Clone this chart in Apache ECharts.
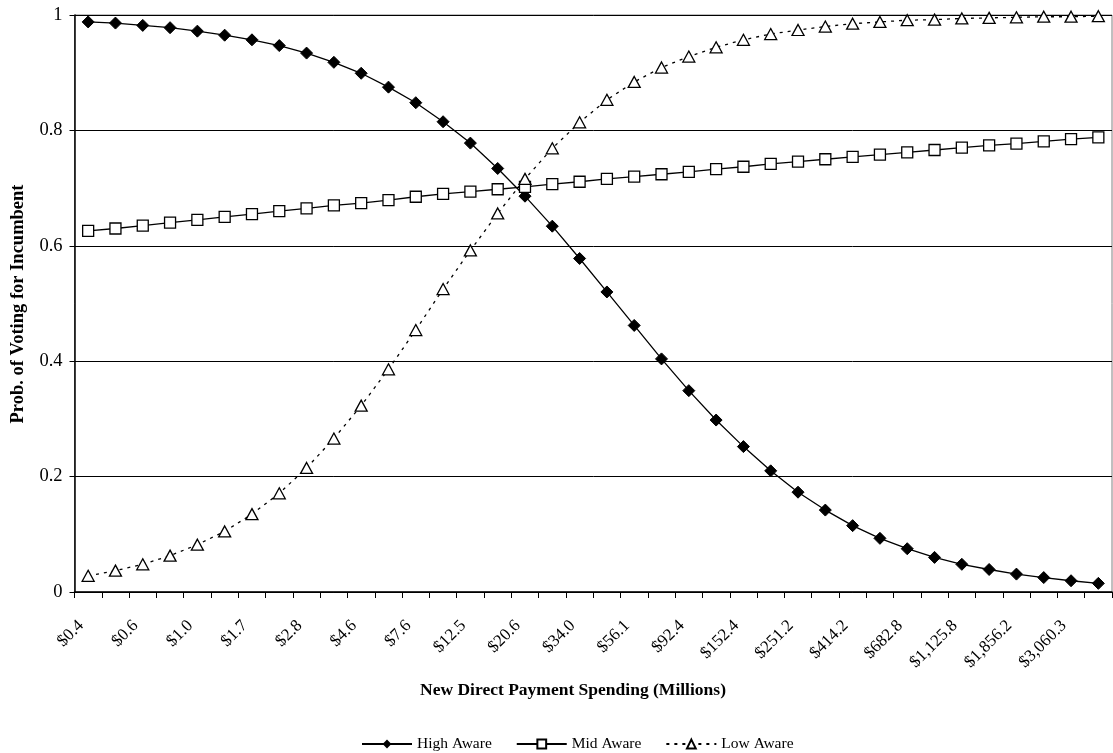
<!DOCTYPE html>
<html>
<head>
<meta charset="utf-8">
<script src="https://cdn.jsdelivr.net/npm/echarts@6/dist/echarts.min.js"></script>
<style>html,body{margin:0;padding:0;background:#fff;}#chart{width:1113px;height:753px;}</style>
</head>
<body>
<div id="chart"></div>
<script>
const categories = ["$0.4","$0.5","$0.6","$0.8","$1.0","$1.3","$1.7","$2.2","$2.8","$3.6","$4.6","$5.9","$7.6","$9.7","$12.5","$16.1","$20.6","$26.5","$34.0","$43.7","$56.1","$72.0","$92.4","$118.7","$152.4","$195.7","$251.2","$322.6","$414.2","$532.0","$682.8","$877.0","$1,125.8","$1,446.0","$1,856.2","$2,384.1","$3,060.3","$3,930.6"];
const highAware = [0.988,0.986,0.982,0.978,0.972,0.965,0.957,0.947,0.934,0.918,0.899,0.875,0.848,0.815,0.778,0.734,0.686,0.634,0.578,0.520,0.462,0.404,0.349,0.298,0.252,0.210,0.173,0.142,0.115,0.093,0.075,0.060,0.048,0.039,0.031,0.025,0.0195,0.015];
const midAware = [0.626,0.630,0.635,0.640,0.645,0.650,0.655,0.660,0.665,0.670,0.674,0.679,0.685,0.690,0.694,0.698,0.702,0.707,0.711,0.716,0.720,0.724,0.728,0.733,0.737,0.742,0.746,0.750,0.754,0.758,0.762,0.766,0.770,0.774,0.777,0.781,0.785,0.788];
const lowAware = [0.028,0.037,0.048,0.063,0.082,0.105,0.135,0.171,0.215,0.266,0.323,0.386,0.454,0.525,0.592,0.656,0.716,0.769,0.814,0.853,0.884,0.909,0.928,0.944,0.957,0.967,0.974,0.980,0.985,0.988,0.991,0.992,0.994,0.995,0.996,0.997,0.997,0.998];
const yTicks = [0, 0.2, 0.4, 0.6, 0.8, 1];

const FONT = "'Liberation Serif','Times New Roman',serif";
const chart = echarts.init(document.getElementById('chart'), null, {renderer: 'canvas'});
chart.setOption({
  animation: false,
  backgroundColor: '#fff',
  textStyle: {fontFamily: FONT, color: '#000'},
  grid: {left: 74.5, right: 1, top: 15, bottom: 161, show: true, borderColor: '#808080', borderWidth: 1},
  legend: {
    left: 356, top: 731,
    itemWidth: 50, itemHeight: 11, itemGap: 24,
    textStyle: {fontFamily: FONT, fontSize: 15.5, color: '#000'},
    data: ['High Aware', 'Mid Aware', 'Low Aware']
  },
  graphic: [
    {type: 'text', x: 573, y: 690, style: {text: 'New Direct Payment Spending (Millions)', fontFamily: FONT, fontWeight: 'bold', fontSize: 17.5, fill: '#000', align: 'center', verticalAlign: 'middle'}},
    {type: 'text', x: 18, y: 304, rotation: Math.PI / 2, style: {text: 'Prob. of Voting for Incumbent', fontFamily: FONT, fontWeight: 'bold', fontSize: 18.5, fill: '#000', align: 'center', verticalAlign: 'middle'}}
  ],
  xAxis: {
    type: 'category',
    data: categories,
    boundaryGap: true,
    axisLine: {lineStyle: {color: '#000', width: 1.5}},
    axisTick: {show: true, interval: 0, length: 6, lineStyle: {color: '#000'}},
    axisLabel: {interval: 1, rotate: 45, margin: 24, padding: [0, 10, 0, 0], fontFamily: FONT, fontSize: 17, color: '#000'},
    splitLine: {show: false}
  },
  yAxis: {
    type: 'value',
    min: yTicks[0], max: yTicks[yTicks.length - 1], interval: 0.2,
    axisLine: {show: true, lineStyle: {color: '#000', width: 1.5}},
    axisTick: {show: true, length: 5, lineStyle: {color: '#000'}},
    axisLabel: {margin: 12, fontFamily: FONT, fontSize: 18.5, color: '#000'},
    splitLine: {show: true, lineStyle: {color: '#000', width: 1}}
  },
  series: [
    {
      name: 'High Aware', type: 'line', data: highAware,
      symbol: 'diamond', symbolSize: 12,
      lineStyle: {color: '#000', width: 1.3},
      itemStyle: {color: '#000', borderColor: '#000'}
    },
    {
      name: 'Mid Aware', type: 'line', data: midAware,
      symbol: 'rect', symbolSize: 11,
      lineStyle: {color: '#000', width: 1.3},
      itemStyle: {color: '#fff', borderColor: '#000', borderWidth: 1.3}
    },
    {
      name: 'Low Aware', type: 'line', data: lowAware,
      symbol: 'triangle', symbolSize: [12, 11],
      lineStyle: {color: '#000', width: 1.3, type: [3, 5]},
      itemStyle: {color: '#fff', borderColor: '#000', borderWidth: 1.3}
    }
  ]
});
</script>
</body>
</html>
